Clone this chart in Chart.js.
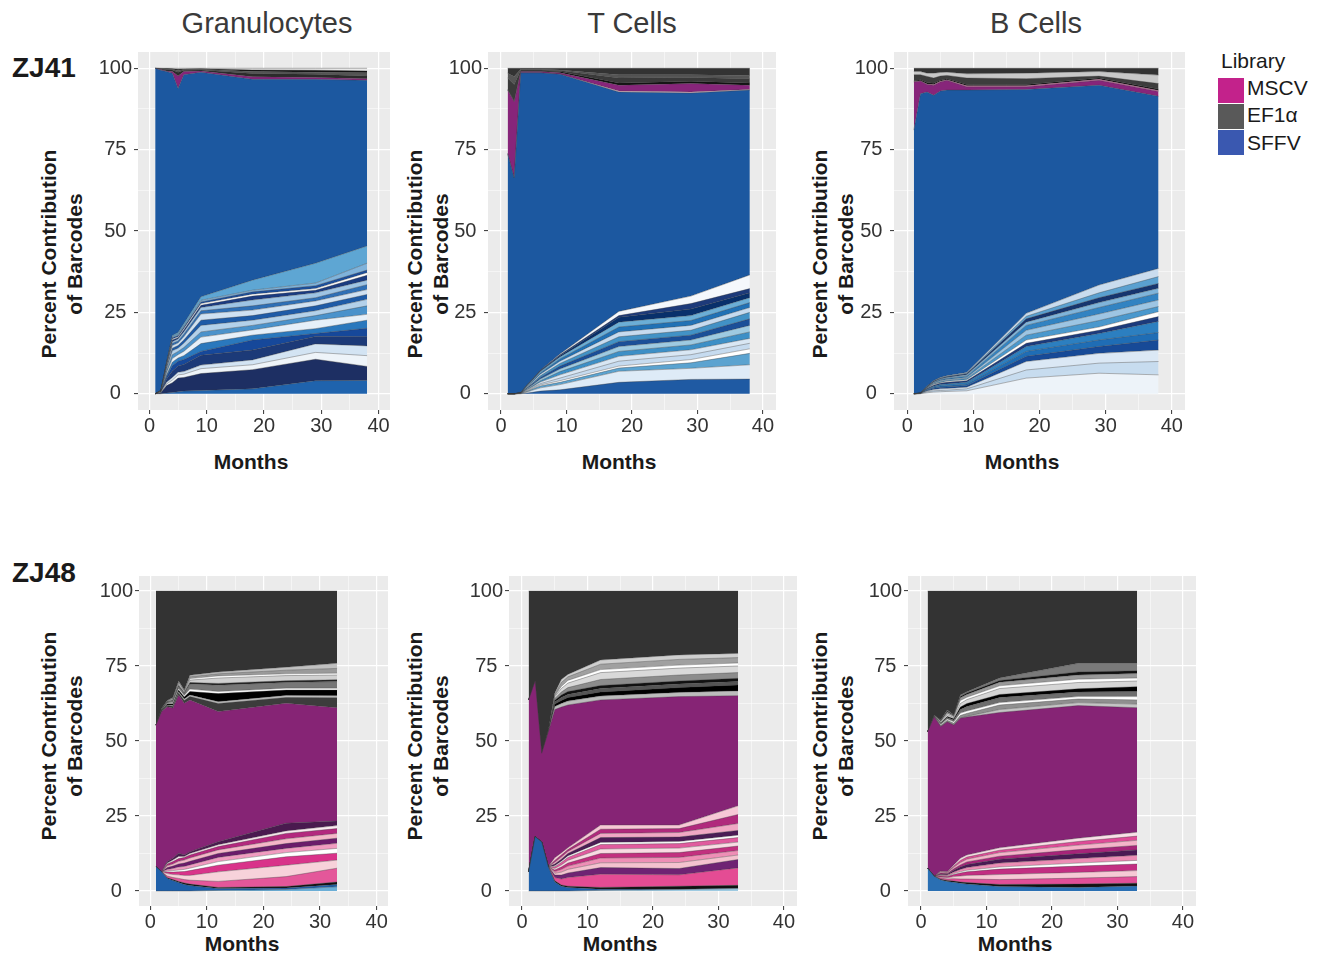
<!DOCTYPE html>
<html>
<head>
<meta charset="utf-8">
<script src="https://cdn.jsdelivr.net/npm/chart.js@4.4.1/dist/chart.umd.min.js"></script>
<style>
  body { margin: 0; background: #fff; font-family: "Liberation Sans", Arial, sans-serif; }
  #fig { position: relative; width: 1317px; height: 955px; overflow: hidden; }
  canvas { position: absolute; }
  .col { position: absolute; transform: translate(-50%, -50%); font-size: 29px; color: #3a3a3a; white-space: nowrap; }
  .row { position: absolute; transform: translateY(-50%); font-size: 28px; font-weight: bold; color: #1a1a1a; }
  .yl { position: absolute; transform: translate(-50%, -50%) rotate(-90deg); font-size: 21px; font-weight: bold; color: #1a1a1a; white-space: nowrap; }
  .xl { position: absolute; transform: translate(-50%, -50%); font-size: 21px; font-weight: bold; color: #1a1a1a; }
  .leg { position: absolute; font-size: 21px; color: #1a1a1a; }
  .key { position: absolute; width: 26px; height: 25px; }
</style>
</head>
<body>
<div id="fig">
  <div class="col" style="left:267px;top:23px">Granulocytes</div>
  <div class="col" style="left:632px;top:23px">T Cells</div>
  <div class="col" style="left:1036px;top:23px">B Cells</div>
  <div class="row" style="left:12px;top:68px">ZJ41</div>
  <div class="row" style="left:12px;top:573px">ZJ48</div>

  <div class="yl" style="left:49px;top:254px">Percent Contribution</div>
  <div class="yl" style="left:75px;top:254px">of Barcodes</div>
  <div class="yl" style="left:415px;top:254px">Percent Contribution</div>
  <div class="yl" style="left:441px;top:254px">of Barcodes</div>
  <div class="yl" style="left:820px;top:254px">Percent Contribution</div>
  <div class="yl" style="left:846px;top:254px">of Barcodes</div>
  <div class="yl" style="left:49px;top:736px">Percent Contribution</div>
  <div class="yl" style="left:75px;top:736px">of Barcodes</div>
  <div class="yl" style="left:415px;top:736px">Percent Contribution</div>
  <div class="yl" style="left:441px;top:736px">of Barcodes</div>
  <div class="yl" style="left:820px;top:736px">Percent Contribution</div>
  <div class="yl" style="left:846px;top:736px">of Barcodes</div>

  <div class="xl" style="left:251px;top:462px">Months</div>
  <div class="xl" style="left:619px;top:462px">Months</div>
  <div class="xl" style="left:1022px;top:462px">Months</div>
  <div class="xl" style="left:242px;top:944px">Months</div>
  <div class="xl" style="left:620px;top:944px">Months</div>
  <div class="xl" style="left:1015px;top:944px">Months</div>

  <div class="leg" style="left:1221px;top:49px">Library</div>
  <div class="key" style="left:1218px;top:78px;background:#c3228b"></div>
  <div class="key" style="left:1218px;top:104px;background:#595959"></div>
  <div class="key" style="left:1218px;top:130px;background:#3a58b0"></div>
  <div class="leg" style="left:1247px;top:76px">MSCV</div>
  <div class="leg" style="left:1247px;top:103px">EF1α</div>
  <div class="leg" style="left:1247px;top:131px">SFFV</div>

  <canvas id="c1"></canvas>
  <canvas id="c2"></canvas>
  <canvas id="c3"></canvas>
  <canvas id="c4"></canvas>
  <canvas id="c5"></canvas>
  <canvas id="c6"></canvas>
</div>

<script>
// sampling months
const monthsZJ41 = [1, 2, 3, 4, 5, 6, 9, 18, 29, 38];
const monthsZJ48 = [1, 2, 3, 4, 5, 6, 7, 12, 24, 33];

const xTicks = [0, 5, 10, 15, 20, 25, 30, 35, 40];
const yTicks = [0, 12.5, 25, 37.5, 50, 62.5, 75, 87.5, 100];

// upper edge of each clone band (cumulative %), bottom to top
const granZJ41 = [
  [0, 0, 0.2, 0.4, 0.6, 0.8, 1, 1.5, 4, 4.1],
  [0, 0.3, 2.5, 3.4, 4.8, 5, 6.2, 7.4, 10.6, 8.4],
  [0, 0.4, 3, 4.2, 5.8, 6, 7.7, 8.9, 12.7, 11.7],
  [0, 0.5, 3.5, 5, 6.6, 6.8, 8.8, 10.4, 15.3, 14.7],
  [0, 0.55, 4.5, 7, 8.5, 9, 11.8, 13.4, 17.6, 17.5],
  [0, 0.6, 5.3, 8.6, 10, 10.5, 13, 16.5, 18.5, 20.1],
  [0, 0.65, 5.8, 9.7, 11, 11.7, 15.4, 18, 20, 22.6],
  [0, 0.7, 6.4, 10.8, 12, 13, 17.4, 19.6, 22.6, 24.4],
  [0, 0.75, 7, 12, 13, 14.2, 19, 21, 24, 27],
  [0, 0.8, 7.6, 13.2, 14, 15.5, 21, 22.6, 25.5, 29],
  [0, 0.85, 8, 14, 14.8, 16.5, 22.6, 24, 27, 30.5],
  [0, 0.9, 8.4, 14.8, 15.6, 17.5, 24.5, 25.7, 28.5, 32],
  [0, 0.92, 8.7, 15.5, 16.2, 18.3, 25.5, 27, 29.5, 33.5],
  [0, 0.94, 9, 16, 16.8, 19, 26.5, 28.8, 31, 34.9],
  [0, 0.96, 9.2, 16.5, 17.2, 19.6, 27.2, 30, 31.8, 36.4],
  [0, 0.97, 9.4, 16.8, 17.5, 20, 27.7, 30.6, 32.3, 37.2],
  [0, 0.98, 9.5, 17.2, 17.9, 20.4, 28.2, 31.3, 33.2, 38],
  [0, 0.99, 9.6, 17.5, 18.3, 20.8, 28.7, 31.8, 34, 40.1],
  [0, 1, 9.7, 17.9, 18.8, 21.5, 29.8, 34.9, 40.1, 45.4],
  [100, 99.4, 99, 98.5, 93.8, 98, 98.8, 96.6, 96.6, 96.3],
  [100, 99.6, 99.2, 99, 97.6, 99, 99.2, 97.4, 97.2, 96.8],
  [100, 99.8, 99.6, 99.5, 98.8, 99.4, 99.5, 98.4, 98.2, 97.6],
  [100, 99.9, 99.8, 99.7, 99.3, 99.6, 99.7, 99, 98.8, 98.6],
  [100, 99.95, 99.9, 99.85, 99.7, 99.8, 99.85, 99.5, 99.4, 99.2],
  [100, 100, 100, 100, 100, 100, 100, 100, 100, 100]
];
const granZJ41Fill = ['#1f63ad', '#1d2f63', '#eef4f9', '#d3e4f3', '#1c3a78', '#16489a', '#2a78bd', '#e6f0f9', '#4a92cb', '#b3d1ea',
  '#1e5ba7', '#cfe1f2', '#2f6fb5', '#9ec4e4', '#1a3b80', '#ffffff', '#1c4f9c', '#7fb3db', '#5ea6d3',
  '#1c58a0', '#87257a', '#2b2b2b', '#555555', '#111111', '#e8e8e8'];

const tcellZJ41 = [
  [0, 0, 0, 0.2, 0.5, 0.8, 1.2, 3.5, 4.4, 4.5],
  [0, 0, 0.05, 0.5, 1.2, 1.8, 2.8, 6.9, 7.8, 8.9],
  [0, 0, 0.08, 0.7, 1.6, 2.4, 3.5, 7.9, 9.5, 12.4],
  [0, 0, 0.1, 0.8, 1.8, 2.7, 4, 8.5, 10.5, 13.8],
  [0, 0, 0.12, 1, 2.1, 3.1, 4.8, 10, 12, 15.5],
  [0, 0, 0.14, 1.2, 2.4, 3.6, 5.8, 11.5, 13.5, 17],
  [0, 0, 0.16, 1.4, 2.7, 4, 6.8, 13, 15, 19],
  [0, 0, 0.18, 1.6, 3, 4.5, 7.6, 14.5, 16.5, 21],
  [0, 0, 0.2, 1.8, 3.4, 5, 8.5, 16, 18, 23],
  [0, 0, 0.22, 2, 3.7, 5.5, 9.3, 17.5, 19.5, 25],
  [0, 0, 0.24, 2.2, 4, 6, 10, 19, 21, 26.5],
  [0, 0, 0.26, 2.4, 4.3, 6.4, 10.7, 20.5, 22.5, 28],
  [0, 0, 0.28, 2.6, 4.6, 6.8, 11.3, 22, 24, 29.5],
  [0, 0, 0.29, 2.7, 4.8, 7, 11.7, 23.5, 26, 31],
  [0, 0, 0.3, 2.8, 4.9, 7.2, 12, 24, 27.7, 32.3],
  [0, 0, 0.3, 2.8, 4.9, 7.2, 12.2, 25.3, 30, 36.5],
  [73.8, 66.3, 98.6, 98.6, 98.6, 98.6, 98.2, 92.7, 92.4, 93.3],
  [73.8, 66.3, 98.6, 98.6, 98.6, 98.6, 98.2, 93, 92.7, 93.5],
  [93.3, 89.7, 99, 99, 99, 99, 98.6, 94.8, 95.3, 94.8],
  [93.5, 90, 99.2, 99.2, 99.2, 99.2, 99, 95.5, 96, 95.5],
  [97, 95, 99.5, 99.5, 99.5, 99.5, 99.3, 97, 97.2, 96.8],
  [98.5, 97.5, 99.7, 99.7, 99.7, 99.7, 99.5, 98, 98, 97.8],
  [100, 100, 100, 100, 100, 100, 100, 100, 100, 100]
];
const tcellZJ41Fill = ['#1f5aa3', '#deebf7', '#5ba3d0', '#ffffff', '#c6dbef', '#d9e7f4', '#3d8fc6', '#9ecae1', '#1b4f98', '#4292c6',
  '#c6dbef', '#2171b5', '#6baed6', '#08306b', '#1d3a7a', '#f5f8fc',
  '#1c58a0', '#f2c6d6', '#87257a', '#111111', '#3a3a3a', '#555555', '#333333'];

const bcellZJ41 = [
  [0, 0.02, 0.3, 0.5, 0.6, 0.7, 0.9, 4.8, 6.3, 5.8],
  [0, 0.04, 0.6, 0.9, 1, 1.1, 1.5, 7.3, 9.4, 9.9],
  [0, 0.06, 0.8, 1.3, 1.5, 1.6, 2, 9.9, 12.4, 13.4],
  [0, 0.08, 1, 1.7, 2, 2.1, 2.5, 11.5, 14.5, 16.5],
  [0, 0.1, 1.2, 2, 2.4, 2.5, 3, 13, 16.5, 18.8],
  [0, 0.12, 1.4, 2.3, 2.8, 3, 3.5, 14.5, 18.5, 22.2],
  [0, 0.13, 1.6, 2.6, 3.2, 3.5, 4, 15.5, 19.5, 23.7],
  [0, 0.14, 1.7, 2.8, 3.4, 3.8, 4.3, 16.5, 20.5, 25.2],
  [0, 0.15, 1.8, 3, 3.7, 4.1, 4.7, 18, 22.5, 26.8],
  [0, 0.16, 1.9, 3.2, 4, 4.4, 5, 19.5, 24.5, 28.8],
  [0, 0.17, 2, 3.4, 4.3, 4.7, 5.4, 21, 26.5, 30.9],
  [0, 0.18, 2.1, 3.6, 4.5, 5, 5.8, 22, 28, 32.4],
  [0, 0.19, 2.2, 3.8, 4.7, 5.2, 6.1, 23, 29.5, 33.9],
  [0, 0.2, 2.25, 3.9, 4.85, 5.35, 6.3, 23.8, 31, 36],
  [0, 0.2, 2.3, 4, 5, 5.5, 6.5, 24.7, 33.4, 38.5],
  [81, 92.2, 92.7, 91.7, 93, 93.3, 93.3, 93.5, 94.8, 91.4],
  [95.8, 96.1, 95, 94.8, 95.8, 96.3, 94.3, 94.3, 96.3, 92.9],
  [95.9, 96.2, 95.2, 95, 96, 96.5, 94.6, 94.6, 96.6, 93.2],
  [96.2, 96.5, 95.6, 95.4, 96.3, 96.8, 95, 95, 97, 93.6],
  [98, 98, 97.5, 97, 97.6, 97.8, 97, 96.8, 97.6, 95.3],
  [99, 99, 98.5, 98.5, 98.7, 98.8, 98.3, 98.5, 99, 97.9],
  [100, 100, 100, 100, 100, 100, 100, 100, 100, 100]
];
const bcellZJ41Fill = ['#edf3f9', '#c7dcef', '#dbe8f5', '#174a97', '#1f6db5', '#2c7fc0', '#1c3b7d', '#ffffff', '#4a98cd', '#9dc5e3',
  '#3283c2', '#7fb4da', '#16356f', '#5aa0d0', '#c9dcee',
  '#1c58a0', '#87257a', '#e377b0', '#111111', '#3d3d3d', '#c8c8c8', '#333333'];

const granZJ48 = [
  [0, 0, 0, 0, 0, 0, 0, 0.2, 0.5, 1.4],
  [8.1, 6.4, 4.2, 3.5, 2.8, 2.2, 1.8, 0.8, 1, 2.2],
  [8.1, 6.4, 4.4, 3.8, 3.2, 2.7, 2.3, 1.2, 1.5, 3],
  [8.1, 6.4, 5, 4.5, 4.2, 3.8, 3.6, 3.2, 4.8, 7.6],
  [8.1, 6.4, 5.8, 5.5, 5.4, 5.2, 5.2, 6.4, 8.6, 10.3],
  [8.1, 6.4, 6.3, 6.3, 6.4, 6.5, 6.8, 8.6, 11.4, 12.6],
  [8.1, 6.4, 6.6, 6.8, 7, 7.2, 7.6, 9.8, 12.8, 14.2],
  [8.1, 6.4, 7.2, 7.5, 8, 8.2, 8.7, 11.2, 14.2, 15.9],
  [8.1, 6.4, 7.8, 8.3, 9, 9.3, 9.9, 12.5, 15.8, 17.6],
  [8.1, 6.4, 8.4, 9, 9.9, 10.3, 11, 13.7, 17.4, 19.2],
  [8.1, 6.4, 9, 9.8, 10.8, 11.2, 12, 14.8, 19.2, 20.8],
  [8.1, 6.4, 9.3, 10.3, 11.5, 11.5, 12.5, 15.4, 20, 21.8],
  [8.1, 6.4, 9.8, 10.9, 12.6, 12, 13.1, 16.4, 22.6, 23.3],
  [55.3, 59.8, 61.4, 61, 65.3, 62.6, 63.7, 59.8, 62.6, 61.1],
  [55.3, 60, 61.8, 61.6, 66, 63.5, 64.8, 62.5, 64.5, 64.4],
  [55.3, 60.1, 62, 61.9, 66.4, 64, 65.3, 63.1, 65.2, 65.1],
  [55.3, 60.3, 62.4, 62.4, 67, 64.7, 66.5, 65.8, 67, 67],
  [55.3, 60.4, 62.7, 62.8, 67.5, 65.2, 67.3, 66.5, 67.6, 67.6],
  [55.3, 60.5, 63, 63.4, 68.2, 65.8, 69, 68.6, 69.5, 69.8],
  [55.3, 60.55, 63.1, 63.6, 68.5, 66, 69.5, 69.2, 70.1, 70.4],
  [55.3, 60.6, 63.2, 63.9, 68.9, 66.3, 70.3, 71, 71.8, 72],
  [55.3, 60.65, 63.3, 64.1, 69.3, 66.6, 70.8, 71.7, 72.4, 72.6],
  [55.3, 60.75, 63.4, 64.3, 69.7, 66.8, 71.4, 72.4, 73.6, 74.2],
  [55.3, 60.8, 63.5, 64.5, 70, 67, 71.9, 73, 74.6, 75.9],
  [100, 100, 100, 100, 100, 100, 100, 100, 100, 100]
];
const granZJ48Fill = ['#6baed6', '#1f5fa8', '#111111', '#e4579a', '#f7d2da', '#d9338a', '#ffffff', '#f09cc0', '#6b1c6b', '#f4b6c8',
  '#b3287e', '#fbeaf0', '#4a1a4f',
  '#862475', '#3c3c3c', '#bdbdbd', '#000000', '#ffffff', '#777777', '#222222', '#d0d0d0', '#ffffff', '#9a9a9a', '#c0c0c0', '#333333'];

const tcellZJ48 = [
  [0, 0, 0, 0, 0, 0, 0, 0.2, 0.5, 0.8],
  [6.4, 18.1, 16.3, 8.1, 3, 1.6, 1.2, 0.6, 0.6, 0.9],
  [6.4, 18.1, 16.3, 8.1, 3.4, 2, 1.6, 1.2, 1.6, 1.9],
  [6.4, 18.1, 16.3, 8.1, 4.5, 4, 4.5, 5.6, 5.4, 7.7],
  [6.4, 18.1, 16.3, 8.1, 5.3, 5.3, 6, 7.8, 7.5, 10.5],
  [6.4, 18.1, 16.3, 8.1, 5.9, 6.3, 7.2, 9.4, 9.5, 12],
  [6.4, 18.1, 16.3, 8.1, 6.5, 7.2, 8.3, 11, 11.2, 13.5],
  [6.4, 18.1, 16.3, 8.1, 7, 8, 9.3, 12.5, 12.8, 15],
  [6.4, 18.1, 16.3, 8.1, 7.5, 8.7, 10.2, 14, 14.3, 16.3],
  [6.4, 18.1, 16.3, 8.1, 8.1, 9.5, 11.2, 15.5, 15.8, 17.8],
  [6.4, 18.1, 16.3, 8.1, 8.4, 9.9, 11.7, 16.2, 16.5, 18.6],
  [6.4, 18.1, 16.3, 8.1, 9, 10.6, 12.5, 17.8, 18, 20.2],
  [6.4, 18.1, 16.3, 8.1, 9.6, 11.3, 13.2, 19.2, 19.5, 22.5],
  [6.4, 18.1, 16.3, 8.1, 10.2, 12, 13.8, 20.6, 20.8, 25.5],
  [6.4, 18.1, 16.3, 8.1, 11.1, 12.7, 14.4, 22, 22, 28.4],
  [63.7, 70, 45.9, 53, 60.5, 61.3, 62, 63.7, 64.8, 65.1],
  [63.7, 70, 45.9, 53.1, 61.5, 62.5, 63.3, 65, 66.2, 66.7],
  [63.7, 70, 45.9, 53.2, 62.3, 63.5, 64.5, 66.3, 67.8, 68.7],
  [63.7, 70, 45.9, 53.3, 63, 64.5, 65.5, 67.5, 69, 69.8],
  [63.7, 70, 45.9, 53.35, 63.6, 65.3, 66.5, 68.5, 70, 70.9],
  [63.7, 70, 45.9, 53.4, 64.2, 66.3, 67.8, 70.5, 72, 72.8],
  [63.7, 70, 45.9, 53.45, 64.8, 67.5, 69.3, 72.8, 74.3, 75],
  [63.7, 70, 45.9, 53.47, 65.1, 68.2, 70.2, 73.8, 75.3, 76],
  [63.7, 70, 45.9, 53.5, 65.6, 69.5, 71.4, 75.6, 77.2, 77.8],
  [63.7, 70, 45.9, 53.5, 66, 70.5, 72.2, 77, 78.7, 79.2],
  [100, 100, 100, 100, 100, 100, 100, 100, 100, 100]
];
const tcellZJ48Fill = ['#9ecae1', '#1f5fa8', '#111111', '#e44c94', '#6f2373', '#f4c2cf', '#ee8fb6', '#c2307f', '#f9dbe3', '#e05b9e',
  '#ffffff', '#4b1c55', '#f0a8c4', '#b02a7c', '#f7c8d6',
  '#862475', '#bcbcbc', '#000000', '#555555', '#111111', '#8c8c8c', '#d9d9d9', '#ffffff', '#a0a0a0', '#cfcfcf', '#333333'];

const bcellZJ48 = [
  [7.6, 4.9, 3.7, 3.2, 2.9, 2.6, 2.3, 1.5, 1.2, 1.7],
  [7.6, 4.9, 3.9, 3.5, 3.3, 3, 2.8, 2.2, 2.3, 2.6],
  [7.6, 4.9, 4.3, 4, 4.1, 4, 4, 3.8, 4.3, 4.8],
  [7.6, 4.9, 4.6, 4.4, 4.8, 5, 5.2, 5.5, 6.2, 6.8],
  [7.6, 4.9, 5, 4.8, 5.5, 6, 6.4, 7.3, 8.3, 9],
  [7.6, 4.9, 5.1, 5, 5.8, 6.4, 6.9, 8, 9.3, 10.2],
  [7.6, 4.9, 5.4, 5.3, 6.3, 7.2, 7.8, 9.3, 10.8, 11.9],
  [7.6, 4.9, 5.7, 5.6, 6.9, 8, 8.8, 10.6, 12.4, 13.7],
  [7.6, 4.9, 6, 5.8, 7.4, 8.7, 9.7, 11.6, 13.8, 15.2],
  [7.6, 4.9, 6.3, 6.1, 7.9, 9.5, 10.6, 12.8, 15.3, 16.9],
  [7.6, 4.9, 6.5, 6.3, 8.3, 10.2, 11.3, 13.6, 16.5, 18.3],
  [7.6, 4.9, 6.7, 6.4, 8.7, 10.9, 12, 14.4, 17.6, 19.6],
  [53.1, 58.1, 54.8, 56.4, 55.3, 57.6, 58, 59.5, 61.8, 61.1],
  [53.1, 58.1, 54.8, 56.4, 55.3, 57.6, 58.2, 60.5, 62.8, 62.3],
  [53.1, 58.2, 55.2, 56.9, 55.9, 58.5, 59.2, 62, 64, 63.7],
  [53.1, 58.25, 55.5, 57.3, 56.4, 59.3, 60, 62.8, 64.8, 64.8],
  [53.1, 58.3, 55.8, 57.8, 57, 60.5, 61.5, 64.5, 66.3, 66.5],
  [53.1, 58.35, 56, 58.2, 57.4, 61.3, 62.5, 65.5, 67.4, 68.1],
  [53.1, 58.45, 56.3, 58.8, 57.8, 62.5, 63.8, 67.5, 69.5, 70],
  [53.1, 58.5, 56.5, 59.2, 58.1, 63.5, 64.6, 68.4, 70.6, 71],
  [53.1, 58.6, 56.7, 59.7, 58.4, 64.4, 65.5, 69.6, 72, 72.5],
  [53.1, 58.65, 56.85, 60, 58.6, 64.8, 66, 70.2, 73, 73.4],
  [53.1, 58.7, 57, 60.3, 58.7, 65.3, 66.4, 71, 75.9, 75.9],
  [100, 100, 100, 100, 100, 100, 100, 100, 100, 100]
];
const bcellZJ48Fill = ['#2a6fb3', '#111111', '#e14f98', '#f6c9d5', '#c22e82', '#ffffff', '#ec8db5', '#4a1a54', '#a62479', '#f4b3c9',
  '#de4b97', '#f9dfe7',
  '#862475', '#c4c4c4', '#8f8f8f', '#ffffff', '#6e6e6e', '#000000', '#d6d6d6', '#ffffff', '#999999', '#111111', '#7a7a7a', '#333333'];

Chart.defaults.font.family = '"Liberation Sans", Arial, sans-serif';

const panelBg = {
  id: 'panelBg',
  beforeDraw(chart) {
    const a = chart.chartArea;
    chart.ctx.save();
    chart.ctx.fillStyle = '#ebebeb';
    chart.ctx.fillRect(a.left, a.top, a.right - a.left, a.bottom - a.top);
    chart.ctx.restore();
  }
};

// plot area of each panel in page pixels
function drawPanel(id, area, months, edges, fills) {
  const padL = 50, padT = 20, padR = 20, padB = 32;
  const cv = document.getElementById(id);
  const w = area.right - area.left + padL + padR;
  const h = area.bottom - area.top + padT + padB;
  cv.width = w; cv.height = h;
  cv.style.width = w + 'px'; cv.style.height = h + 'px';
  cv.style.left = (area.left - padL) + 'px';
  cv.style.top = (area.top - padT) + 'px';

  const datasets = edges.map((row, i) => ({
    data: row.map((v, j) => ({ x: months[j], y: v })),
    backgroundColor: fills[i],
    borderColor: 'rgba(55,55,55,0.6)',
    borderWidth: 0.6,
    fill: i === 0 ? 'origin' : '-1',
    pointRadius: 0,
    tension: 0
  }));

  const gridOpts = (major) => ({
    color: '#ffffff',
    lineWidth: c => (c.tick && c.tick.value % major === 0 ? 1.2 : 0.5),
    drawTicks: true,
    tickLength: 4,
    tickWidth: 1,
    tickColor: c => (c.tick && c.tick.value % major === 0 ? '#333333' : 'rgba(0,0,0,0)')
  });

  new Chart(cv, {
    type: 'line',
    data: { datasets },
    plugins: [panelBg],
    options: {
      responsive: false,
      devicePixelRatio: 1,
      animation: false,
      layout: { padding: { left: 0, top: padT, right: padR, bottom: 0 } },
      plugins: { legend: { display: false }, tooltip: { enabled: false } },
      scales: {
        x: {
          type: 'linear', min: -2, max: 42,
          afterBuildTicks: s => { s.ticks = xTicks.map(v => ({ value: v })); },
          afterFit: s => { s.height = padB; },
          grid: gridOpts(10),
          border: { display: false },
          ticks: {
            autoSkip: false, maxRotation: 0, padding: 0,
            color: '#333333', font: { size: 20 },
            callback: v => (v % 10 === 0 ? String(v) : '')
          }
        },
        y: {
          type: 'linear', min: -5, max: 105,
          afterBuildTicks: s => { s.ticks = yTicks.map(v => ({ value: v })); },
          afterFit: s => { s.width = padL; },
          grid: gridOpts(25),
          border: { display: false },
          ticks: {
            autoSkip: false, padding: 2, crossAlign: 'center',
            color: '#333333', font: { size: 20 },
            callback: v => (v % 25 === 0 ? String(v) : '')
          }
        }
      }
    }
  });
}

drawPanel('c1', { left: 138, right: 390, top: 52, bottom: 410 }, monthsZJ41, granZJ41, granZJ41Fill);
drawPanel('c2', { left: 488, right: 776, top: 52, bottom: 410 }, monthsZJ41, tcellZJ41, tcellZJ41Fill);
drawPanel('c3', { left: 894, right: 1185, top: 52, bottom: 410 }, monthsZJ41, bcellZJ41, bcellZJ41Fill);
drawPanel('c4', { left: 139, right: 388, top: 576, bottom: 906 }, monthsZJ48, granZJ48, granZJ48Fill);
drawPanel('c5', { left: 509, right: 797, top: 576, bottom: 906 }, monthsZJ48, tcellZJ48, tcellZJ48Fill);
drawPanel('c6', { left: 908, right: 1196, top: 576, bottom: 906 }, monthsZJ48, bcellZJ48, bcellZJ48Fill);
</script>
</body>
</html>
